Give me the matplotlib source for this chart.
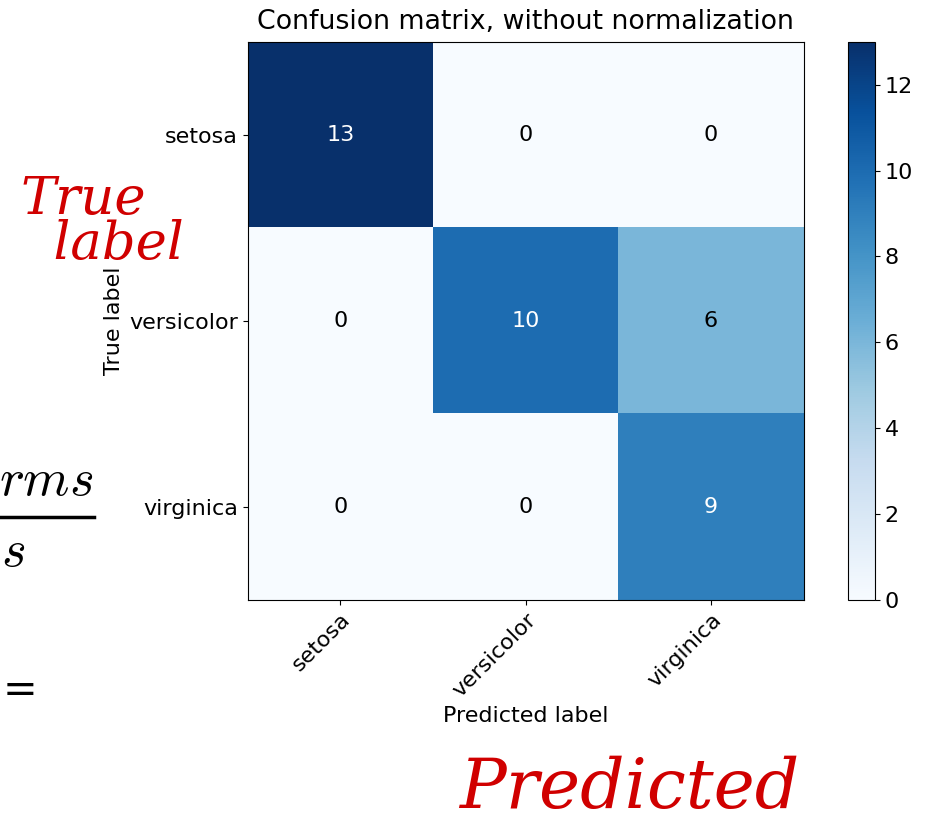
import matplotlib
matplotlib.use("Agg")
import matplotlib.pyplot as plt
import numpy as np
from matplotlib.lines import Line2D

classes = ["setosa", "versicolor", "virginica"]
cm = np.array([[13, 0, 0],
               [0, 10, 6],
               [0, 0, 9]])
cbar_ticks = [0, 2, 4, 6, 8, 10, 12]

plt.rcParams["font.size"] = 16
plt.rcParams["mathtext.fontset"] = "cm"

fig = plt.figure(figsize=(9.28, 8.32), dpi=100)
ax = fig.add_axes([0.267, 0.279, 0.599, 0.6707])
cax = fig.add_axes([0.914, 0.279, 0.029, 0.6707])

im = ax.imshow(cm, interpolation="nearest", cmap=plt.cm.Blues, vmin=0, vmax=13, aspect="auto")
ax.set_title("Confusion matrix, without normalization", fontsize=19.3, pad=9)
cb = fig.colorbar(im, cax=cax, ticks=cbar_ticks)
cb.outline.set_edgecolor("black")

tick_marks = np.arange(len(classes))
ax.set_xticks(tick_marks)
ax.set_xticklabels(classes, rotation=45, ha="right", rotation_mode="anchor")
ax.set_yticks(tick_marks)
ax.set_yticklabels(classes)

thresh = cm.max() / 2.
for i in range(cm.shape[0]):
    for j in range(cm.shape[1]):
        ax.text(j, i, format(cm[i, j], "d"), ha="center", va="center",
                color="white" if cm[i, j] > thresh else "black")

ax.set_ylabel("True label")
ax.set_xlabel("Predicted label")

# handwritten notes and the cut-off formula on the left
red = "#d00000"
fig.text(0.022, 0.676, "True\n  label", color=red, fontsize=38, fontstyle="italic",
         family="DejaVu Serif", linespacing=0.85, va="bottom")
fig.text(0.495, 0.012, "Predicted", color=red, fontsize=50, fontstyle="italic",
         family="DejaVu Serif", va="bottom")

fig.text(0.100, 0.392, r"$rms$", fontsize=38, ha="right", va="bottom")
fig.add_artist(Line2D([0.0, 0.101], [0.379, 0.379], color="black", lw=2.5,
                      transform=fig.transFigure))
fig.text(0.001, 0.338, r"$s$", fontsize=38, ha="left", va="center")
fig.text(0.022, 0.171, "=", fontsize=30, ha="center", va="center")

fig.savefig("out.png", dpi=100)
